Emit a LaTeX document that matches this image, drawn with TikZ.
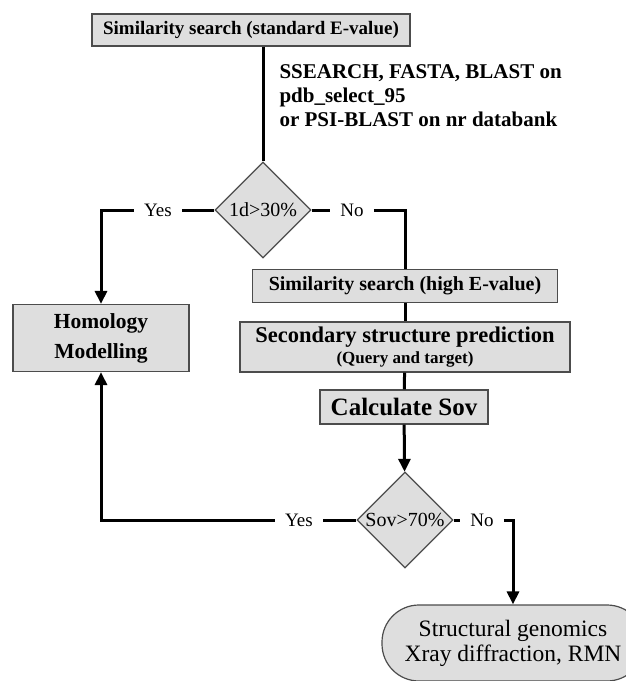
\documentclass[tikz,border=0pt]{standalone}
\usepackage{fontspec}
\setmainfont{Liberation Serif}
\usepackage{tikz}
\usetikzlibrary{shapes.geometric, arrows.meta}

\tikzset{
	flowbox/.style = {draw = black!70, line width = 1.2pt, fill = black!13, inner sep = 0pt, align = center, font = \bfseries},
	decision/.style = {diamond, draw = black!70, line width = 1.2pt, fill = black!13, inner sep = 0pt, minimum width = 96pt, minimum height = 96pt},
	answer/.style = {inner xsep = 10pt, inner ysep = 2pt, font = \fontsize{19}{21}\selectfont},
	flowline/.style = {line width = 3pt},
	flowarrow/.style = {line width = 3pt, -{Triangle[length = 13pt, width = 12pt]}}
}

\begin{document}
\begin{tikzpicture}[x = 1pt, y = -1pt]
		\useasboundingbox (0,0) rectangle (626,681);
		
		\begin{scope}
			\node [flowbox, minimum width = 318pt, minimum height = 32pt, font = \bfseries\fontsize{19}{21}\selectfont] (search) at (251,30) {Similarity search (standard E-value)};
			\node [anchor = west, align = left, font = \bfseries\fontsize{21}{24}\selectfont] (tools) at (276,96) {SSEARCH, FASTA, BLAST on\\pdb\_select\_95\\or PSI-BLAST on nr databank};
			\node [decision, font = \fontsize{20}{22}\selectfont] (identity) at (263,210) {1d>30\%};
			\node [answer] (yesid) at (158,210) {Yes};
			\node [answer] (noid) at (352,210) {No};
		\end{scope}
		
		\begin{scope}
			\node [flowbox, minimum width = 176pt, minimum height = 67pt, font = \bfseries\fontsize{21.5}{30}\selectfont] (homology) at (101,338) {Homology\\Modelling};
			\node [flowbox, minimum width = 305pt, minimum height = 33pt, font = \bfseries\fontsize{20}{22}\selectfont] (highsearch) at (405,286) {Similarity search (high E-value)};
			\node [flowbox, minimum width = 330pt, minimum height = 50pt, font = \bfseries\fontsize{22.5}{21}\selectfont] (secondary) at (405,347) {Secondary structure prediction\\{\fontsize{17}{19}\selectfont (Query and target)}};
			\node [flowbox, minimum width = 168pt, minimum height = 34pt, font = \bfseries\fontsize{25}{27}\selectfont] (sov) at (404,407) {Calculate Sov};
		\end{scope}
		
		\begin{scope}
			\node [decision, font = \fontsize{20}{22}\selectfont] (sovtest) at (405,520) {Sov>70\%};
			\node [answer] (yessov) at (299,520) {Yes};
			\node [answer] (nosov) at (482,520) {No};
			\node [draw = black!70, line width = 1.2pt, fill = black!13, rounded corners = 37pt, minimum width = 262pt, minimum height = 76pt, inner sep = 0pt, align = center, font = \fontsize{23.5}{25}\selectfont] (genomics) at (513,643) {Structural genomics\\Xray diffraction, RMN};
		\end{scope}
		
		\begin{scope}
			\draw [flowline] (identity |- search.south) -- (identity);
			\draw [flowline] (identity) -- (yesid);
			\draw [flowarrow] (yesid) -| (homology);
			\draw [flowline] (identity) -- (noid);
			\draw [flowline] (noid) -| (highsearch);
			\draw [flowline] (highsearch) -- (secondary);
			\draw [flowline] (secondary) -- (sov);
			\draw [flowarrow] (sov) -- (sovtest);
			\draw [flowline] (sovtest) -- (yessov);
			\draw [flowarrow] (yessov) -| (homology);
			\draw [flowline] (sovtest) -- (nosov);
			\draw [flowarrow] (nosov) -| (genomics);
		\end{scope}
	\end{tikzpicture}
\end{document}
